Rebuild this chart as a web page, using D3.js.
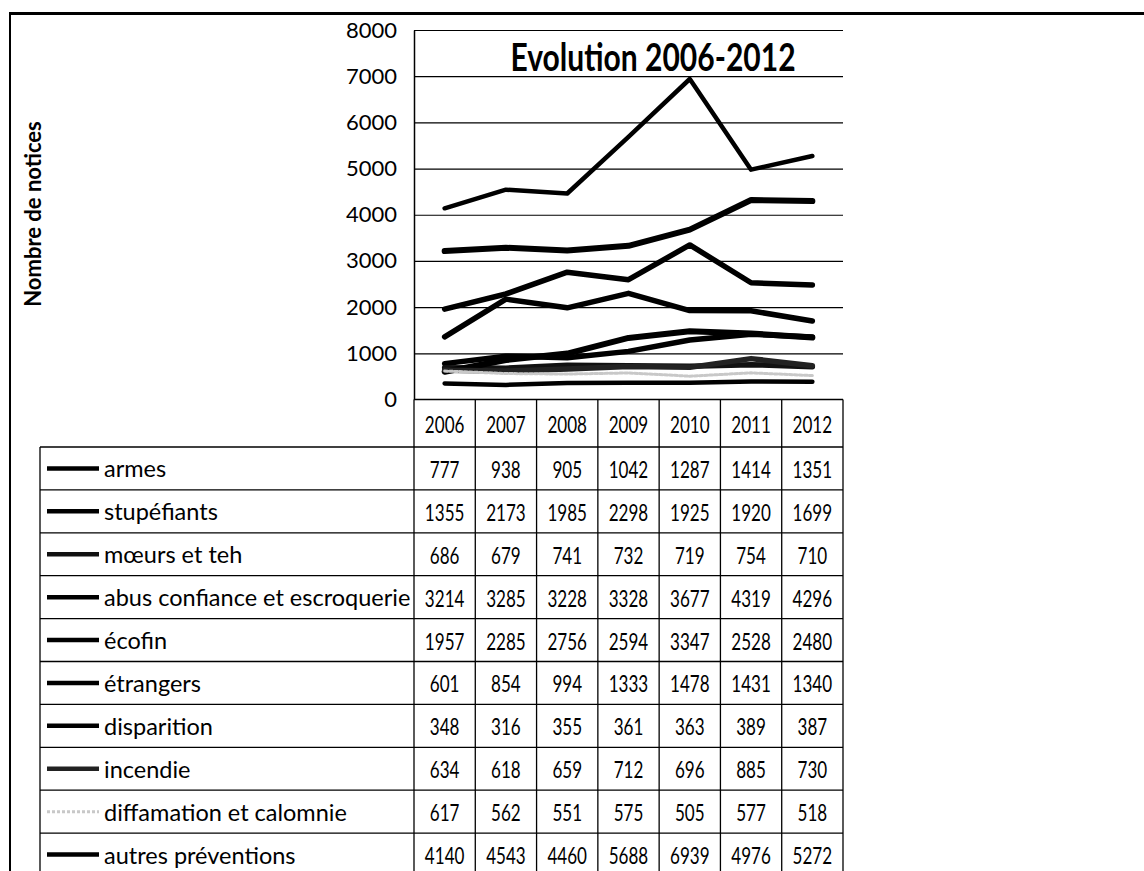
<!DOCTYPE html>
<html>
<head>
<meta charset="utf-8">
<script src="https://cdn.jsdelivr.net/npm/d3@7/dist/d3.min.js"></script>
<style>
  html, body { margin: 0; padding: 0; background: #fff; }
  svg { display: block; }
</style>
</head>
<body>
<svg id="chart" width="1144" height="871"></svg>
<script>
// ---------- DATA ----------
const years = ["2006", "2007", "2008", "2009", "2010", "2011", "2012"];
const categories = [
  "armes", "stupéfiants", "mœurs et teh", "abus confiance et escroquerie", "écofin",
  "étrangers", "disparition", "incendie", "diffamation et calomnie", "autres préventions"
];
const armes        = [777, 938, 905, 1042, 1287, 1414, 1351];
const stupefiants  = [1355, 2173, 1985, 2298, 1925, 1920, 1699];
const moeurs       = [686, 679, 741, 732, 719, 754, 710];
const abusConfiance = [3214, 3285, 3228, 3328, 3677, 4319, 4296];
const ecofin       = [1957, 2285, 2756, 2594, 3347, 2528, 2480];
const etrangers    = [601, 854, 994, 1333, 1478, 1431, 1340];
const disparition  = [348, 316, 355, 361, 363, 389, 387];
const incendie     = [634, 618, 659, 712, 696, 885, 730];
const diffamation  = [617, 562, 551, 575, 505, 577, 518];
const autres       = [4140, 4543, 4460, 5688, 6939, 4976, 5272];
const yTicks = [0, 1000, 2000, 3000, 4000, 5000, 6000, 7000, 8000];
const chartTitle = "Evolution 2006-2012";
const yTitle = "Nombre de notices";

const seriesValues = [armes, stupefiants, moeurs, abusConfiance, ecofin,
                      etrangers, disparition, incendie, diffamation, autres];
const series = categories.map((name, i) => ({ name, values: seriesValues[i] }));

// ---------- STYLES (separate from data) ----------
const seriesStyle = [
  { color: "#000", width: 5.5, dash: null },
  { color: "#000", width: 5.5, dash: null },
  { color: "#111", width: 5.5, dash: null },
  { color: "#000", width: 6, dash: null },
  { color: "#000", width: 5.5, dash: null },
  { color: "#000", width: 6, dash: null },
  { color: "#000", width: 4.5, dash: null },
  { color: "#222", width: 5.5, dash: null },
  { color: "#c8c8c8", width: 3, dash: "3,2" },
  { color: "#000", width: 4.5, dash: null }
];

const LATO = "Lato, 'Open Sans', sans-serif";

// horizontally condense a text selection by a factor (keeps glyph height)
function condense(sel, factor) {
  sel.each(function () {
    const w = this.getComputedTextLength();
    d3.select(this).attr("textLength", w * factor).attr("lengthAdjust", "spacingAndGlyphs");
  });
}

// ---------- LAYOUT ----------
const svg = d3.select("#chart");
const plotLeft = 414, plotRight = 843, plotTop = 30, plotBottom = 399.5;
const headerBottom = 447, rowH = 42.9;
const legendLeft = 40;

const x = d3.scaleBand().domain(years).range([plotLeft, plotRight]).padding(0);
const y = d3.scaleLinear().domain([0, 8000]).range([plotBottom, plotTop]);
const rowY = d3.scaleBand().domain(categories)
  .range([headerBottom, headerBottom + rowH * categories.length]).padding(0);

svg.append("rect").attr("width", 1144).attr("height", 871).attr("fill", "#fff");

// outer frame
svg.append("line").attr("x1", 9).attr("x2", 1144).attr("y1", 13.5).attr("y2", 13.5)
  .attr("stroke", "#000").attr("stroke-width", 3);
svg.append("line").attr("x1", 10).attr("x2", 10).attr("y1", 12).attr("y2", 871)
  .attr("stroke", "#000").attr("stroke-width", 2);

// gridlines
const grid = d3.axisLeft(y).tickValues(yTicks.filter(d => d > 0))
  .tickSize(-(plotRight - plotLeft)).tickFormat("");
svg.append("g").attr("transform", `translate(${plotLeft},0)`).call(grid)
  .call(g => g.select(".domain").remove())
  .call(g => g.selectAll("line").attr("stroke", "#000").attr("stroke-width", 1.2));

// y axis
const yAxis = d3.axisLeft(y).tickValues(yTicks).tickSize(0).tickPadding(17)
  .tickFormat(d3.format("d"));
svg.append("g").attr("transform", `translate(${plotLeft},0)`).call(yAxis)
  .call(g => g.select(".domain").attr("stroke", "#000").attr("stroke-width", 1.5))
  .call(g => g.selectAll("text").attr("font-family", LATO).attr("font-size", 22)
    .attr("fill", "#000"));

// y title
svg.append("text")
  .attr("transform", `translate(32,214) rotate(-90)`)
  .attr("text-anchor", "middle").attr("dominant-baseline", "central")
  .attr("font-family", LATO).attr("font-weight", "bold").attr("font-size", 22)
  .text(yTitle);

// chart title
svg.append("text")
  .attr("x", 653).attr("y", 71).attr("text-anchor", "middle")
  .attr("font-family", LATO).attr("font-weight", "bold").attr("font-size", 39)
  .text(chartTitle)
  .call(condense, 0.77);

// lines
const line = d3.line().x((d, i) => x(years[i]) + x.bandwidth() / 2).y(d => y(d))
  .curve(d3.curveLinear);
svg.append("g").selectAll("path").data(series).join("path")
  .attr("d", d => line(d.values))
  .attr("fill", "none")
  .attr("stroke", (d, i) => seriesStyle[i].color)
  .attr("stroke-width", (d, i) => seriesStyle[i].width)
  .attr("stroke-dasharray", (d, i) => seriesStyle[i].dash)
  .attr("stroke-linejoin", "round").attr("stroke-linecap", "round");

// ---------- TABLE ----------
const table = svg.append("g");
const tableBottom = headerBottom + rowH * categories.length;
const bw = 1.3;
table.append("line").attr("x1", plotLeft).attr("x2", plotRight)
  .attr("y1", plotBottom).attr("y2", plotBottom).attr("stroke", "#000").attr("stroke-width", bw);
const rowEdges = [headerBottom].concat(categories.map(c => rowY(c) + rowY.bandwidth()));
table.selectAll("line.row").data(rowEdges).join("line").attr("class", "row")
  .attr("x1", legendLeft).attr("x2", plotRight)
  .attr("y1", d => d).attr("y2", d => d)
  .attr("stroke", "#000").attr("stroke-width", bw);
const colEdges = years.map(yr => x(yr)).concat([plotRight]);
table.selectAll("line.col").data(colEdges).join("line").attr("class", "col")
  .attr("x1", d => d).attr("x2", d => d)
  .attr("y1", plotBottom).attr("y2", tableBottom)
  .attr("stroke", "#000").attr("stroke-width", bw);
table.append("line").attr("x1", legendLeft).attr("x2", legendLeft)
  .attr("y1", headerBottom).attr("y2", tableBottom)
  .attr("stroke", "#000").attr("stroke-width", bw);

// header labels
table.selectAll("text.hdr").data(years).join("text").attr("class", "hdr")
  .attr("x", d => x(d) + x.bandwidth() / 2)
  .attr("y", (plotBottom + headerBottom) / 2)
  .attr("text-anchor", "middle").attr("dominant-baseline", "central")
  .attr("font-family", LATO).attr("font-size", 24)
  .text(d => d)
  .call(condense, 0.71);

// data rows
const rows = table.selectAll("g.r").data(series).join("g").attr("class", "r")
  .attr("transform", d => `translate(0,${rowY(d.name) + rowY.bandwidth() / 2})`);
rows.append("line")
  .attr("x1", 47).attr("x2", 99).attr("y1", 0).attr("y2", 0)
  .attr("stroke", (d, i) => seriesStyle[i].color)
  .attr("stroke-width", (d, i) => Math.min(seriesStyle[i].width, 4.5))
  .attr("stroke-dasharray", (d, i) => seriesStyle[i].dash);
rows.append("text")
  .attr("x", 104).attr("y", 0).attr("dominant-baseline", "central")
  .attr("font-family", LATO).attr("font-size", 23.5)
  .text(d => d.name);
rows.selectAll("text.v").data(d => d.values).join("text").attr("class", "v")
  .attr("x", (d, i) => x(years[i]) + x.bandwidth() / 2).attr("y", 0)
  .attr("text-anchor", "middle").attr("dominant-baseline", "central")
  .attr("font-family", LATO).attr("font-size", 24)
  .text(d => d)
  .call(condense, 0.71);
</script>
</body>
</html>
